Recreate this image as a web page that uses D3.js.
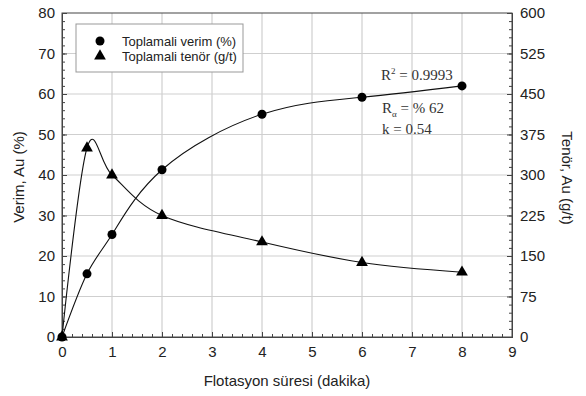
<!DOCTYPE html>
<html><head><meta charset="utf-8">
<script src="https://cdn.jsdelivr.net/npm/d3@7"></script>
<style>body{margin:0;background:#fff}svg{display:block}</style>
</head><body>
<svg id="c" width="586" height="396"></svg>
<script>
const times = [0, 0.5, 1, 2, 4, 6, 8];
const verim = [0, 15.6, 25.3, 41.3, 55.0, 59.2, 62.0];
const tenor = [0, 350, 300, 225, 176, 138, 120];
const xTicks = [0,1,2,3,4,5,6,7,8,9];
const yLeftTicks = [0,10,20,30,40,50,60,70,80];
const yRightTicks = [0,75,150,225,300,375,450,525,600];
const legendLabels = ["Toplamali verim (%)", "Toplamali tenör (g/t)"];

const svg = d3.select("#c");
const L = 62, R = 512, T = 13, B = 337;
const x = d3.scaleLinear().domain([0,9]).range([L,R]);
const yL = d3.scaleLinear().domain([0,80]).range([B,T]);
const yR = d3.scaleLinear().domain([0,600]).range([B,T]);
const font = "Liberation Sans, Arial, sans-serif";

// grid
const g = svg.append("g");
g.selectAll(".gx").data(xTicks.slice(1,-1)).join("line")
  .attr("x1",d=>x(d)).attr("x2",d=>x(d)).attr("y1",T).attr("y2",B)
  .attr("stroke","#cfcfcf").attr("stroke-width",1.2);
g.selectAll(".gy").data(yLeftTicks.slice(1,-1)).join("line")
  .attr("x1",L).attr("x2",R).attr("y1",d=>yL(d)).attr("y2",d=>yL(d))
  .attr("stroke","#cfcfcf").attr("stroke-width",1.2);

// frame
svg.append("rect").attr("x",L).attr("y",T).attr("width",R-L).attr("height",B-T)
  .attr("fill","none").attr("stroke","#444").attr("stroke-width",1);

// axes
const ax = svg.append("g").attr("transform",`translate(0,${B})`)
  .call(d3.axisBottom(x).tickValues(xTicks).tickSize(-5).tickPadding(9).tickFormat(d3.format("d")));
const axm = svg.append("g").attr("transform",`translate(0,${B})`)
  .call(d3.axisBottom(x).tickValues(d3.range(0,45).map(i=>i/5)).tickSize(-3).tickFormat(""));
const ay = svg.append("g").attr("transform",`translate(${L},0)`)
  .call(d3.axisLeft(yL).tickValues(yLeftTicks).tickSize(-5).tickPadding(7));
const aym = svg.append("g").attr("transform",`translate(${L},0)`)
  .call(d3.axisLeft(yL).tickValues(d3.range(0,41).map(i=>i*2)).tickSize(-3).tickFormat(""));
const ar = svg.append("g").attr("transform",`translate(${R},0)`)
  .call(d3.axisRight(yR).tickValues(yRightTicks).tickSize(-5).tickPadding(8));
const arm = svg.append("g").attr("transform",`translate(${R},0)`)
  .call(d3.axisRight(yR).tickValues(d3.range(0,41).map(i=>i*15)).tickSize(-3).tickFormat(""));
[ax,axm,ay,aym,ar,arm].forEach(a=>{
  a.select(".domain").attr("stroke","#444");
  a.selectAll("line").attr("stroke","#444");
  a.selectAll("text").attr("font-family",font).attr("font-size",15).attr("fill","#222");
});

// curves
const lineV = d3.line().x((d,i)=>x(times[i])).y(d=>yL(d)).curve(d3.curveNatural);
const lineT = d3.line().x((d,i)=>x(times[i])).y(d=>yR(d)).curve(d3.curveCardinal.tension(0));
svg.append("path").datum(verim).attr("d",lineV).attr("fill","none").attr("stroke","#111").attr("stroke-width",1.1);
svg.append("path").datum(tenor).attr("d",lineT).attr("fill","none").attr("stroke","#111").attr("stroke-width",1.1);

// markers
svg.selectAll(".cv").data(verim).join("circle")
  .attr("cx",(d,i)=>x(times[i])).attr("cy",d=>yL(d)).attr("r",4.5).attr("fill","#000");
const tri = d3.symbol().type(d3.symbolTriangle).size(60);
svg.selectAll(".tv").data(tenor).join("path")
  .attr("d",tri).attr("transform",(d,i)=>`translate(${x(times[i])},${yR(d)})`).attr("fill","#000");

// legend
const lg = svg.append("g");
lg.append("rect").attr("x",76).attr("y",24).attr("width",167).attr("height",48)
  .attr("fill","#fff").attr("stroke","#999").attr("stroke-width",1);
lg.append("circle").attr("cx",100).attr("cy",41).attr("r",4.5).attr("fill","#000");
lg.append("path").attr("d",tri).attr("transform","translate(100,56)").attr("fill","#000");
lg.selectAll(".lt").data(legendLabels).join("text")
  .attr("x",122).attr("y",(d,i)=>46+i*15).text(d=>d)
  .attr("font-family",font).attr("font-size",13).attr("fill","#222");

// annotations
const serif = "Liberation Serif, Times New Roman, serif";
const t1 = svg.append("text").attr("x",381).attr("y",80).attr("font-family",serif).attr("font-size",15).attr("fill","#333");
t1.append("tspan").text("R");
t1.append("tspan").text("2").attr("font-size",9).attr("dy",-6);
t1.append("tspan").text(" = 0.9993").attr("dy",6);
const t2 = svg.append("text").attr("x",382).attr("y",113).attr("font-family",serif).attr("font-size",15).attr("fill","#333");
t2.append("tspan").text("R");
t2.append("tspan").text("α").attr("font-size",9).attr("dy",4);
t2.append("tspan").text("  = % 62").attr("dy",-4);
svg.append("text").attr("x",382).attr("y",134).attr("font-family",serif).attr("font-size",15).attr("fill","#333").text("k = 0.54");

// axis titles
svg.append("text").attr("x",(L+R)/2).attr("y",386).attr("text-anchor","middle")
  .attr("font-family",font).attr("font-size",15).attr("fill","#222").text("Flotasyon süresi (dakika)");
svg.append("text").attr("transform",`translate(24,177) rotate(-90)`).attr("text-anchor","middle")
  .attr("font-family",font).attr("font-size",15).attr("fill","#222").text("Verim, Au (%)");
svg.append("text").attr("transform",`translate(562,178) rotate(90)`).attr("text-anchor","middle")
  .attr("font-family",font).attr("font-size",15).attr("fill","#222").text("Tenör, Au (g/t)");
</script>
</body></html>
